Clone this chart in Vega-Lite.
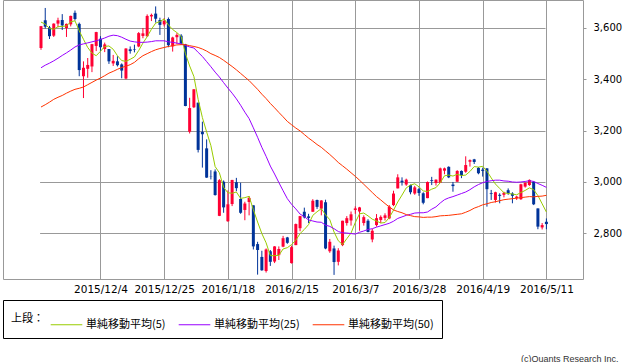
{
"$schema":"https://vega.github.io/schema/vega-lite/v6.json",
"width":580,"height":279,
"autosize":{"type":"none"},
"padding":{"left":3,"top":0,"right":55,"bottom":83},
"background":"white",
"config":{"view":{"stroke":"#999","strokeWidth":1},"font":"DejaVu Sans"},
"title":{"text":"(c)Quants Research Inc.","orient":"bottom","anchor":"end","frame":"bounds","fontSize":9,"font":"Liberation Sans","fontWeight":"normal","color":"#333","offset":16,"dx":-3},
"data":{"values":[
{"d":"2015-11-16","o":3522,"h":3608,"l":3515,"c":3607,"m5":3623,"m25":3445,"m50":3292},
{"d":"2015-11-17","o":3630,"h":3678,"l":3598,"c":3605,"m5":3615,"m25":3455,"m50":3301},
{"d":"2015-11-18","o":3602,"h":3608,"l":3557,"c":3568,"m5":3598,"m25":3463,"m50":3311},
{"d":"2015-11-19","o":3570,"h":3618,"l":3565,"c":3617,"m5":3595,"m25":3472,"m50":3322},
{"d":"2015-11-20","o":3617,"h":3640,"l":3603,"c":3630,"m5":3605,"m25":3482,"m50":3330},
{"d":"2015-11-23","o":3631,"h":3654,"l":3592,"c":3610,"m5":3606,"m25":3493,"m50":3337},
{"d":"2015-11-24","o":3600,"h":3617,"l":3565,"c":3616,"m5":3608,"m25":3503,"m50":3346},
{"d":"2015-11-25","o":3614,"h":3648,"l":3606,"c":3647,"m5":3624,"m25":3514,"m50":3354},
{"d":"2015-11-26","o":3659,"h":3668,"l":3629,"c":3635,"m5":3628,"m25":3526,"m50":3361},
{"d":"2015-11-27","o":3616,"h":3621,"l":3412,"c":3436,"m5":3589,"m25":3534,"m50":3365},
{"d":"2015-11-30","o":3412,"h":3470,"l":3327,"c":3445,"m5":3556,"m25":3538,"m50":3370},
{"d":"2015-12-01","o":3441,"h":3483,"l":3406,"c":3456,"m5":3524,"m25":3542,"m50":3379},
{"d":"2015-12-02","o":3450,"h":3538,"l":3428,"c":3537,"m5":3502,"m25":3546,"m50":3388},
{"d":"2015-12-03","o":3530,"h":3585,"l":3510,"c":3584,"m5":3492,"m25":3550,"m50":3397},
{"d":"2015-12-04","o":3558,"h":3568,"l":3510,"c":3525,"m5":3509,"m25":3555,"m50":3405},
{"d":"2015-12-07","o":3518,"h":3543,"l":3506,"c":3536,"m5":3528,"m25":3561,"m50":3414},
{"d":"2015-12-08","o":3518,"h":3518,"l":3460,"c":3470,"m5":3530,"m25":3568,"m50":3424},
{"d":"2015-12-09","o":3462,"h":3495,"l":3452,"c":3472,"m5":3517,"m25":3572,"m50":3431},
{"d":"2015-12-10","o":3470,"h":3490,"l":3450,"c":3455,"m5":3492,"m25":3570,"m50":3439},
{"d":"2015-12-11","o":3458,"h":3462,"l":3404,"c":3434,"m5":3473,"m25":3564,"m50":3446},
{"d":"2015-12-14","o":3403,"h":3521,"l":3400,"c":3520,"m5":3470,"m25":3556,"m50":3451},
{"d":"2015-12-15","o":3517,"h":3528,"l":3500,"c":3510,"m5":3478,"m25":3549,"m50":3457},
{"d":"2015-12-16","o":3518,"h":3535,"l":3505,"c":3516,"m5":3487,"m25":3546,"m50":3466},
{"d":"2015-12-17","o":3528,"h":3584,"l":3525,"c":3580,"m5":3512,"m25":3544,"m50":3480},
{"d":"2015-12-18","o":3569,"h":3600,"l":3560,"c":3579,"m5":3541,"m25":3544,"m50":3492},
{"d":"2015-12-21","o":3568,"h":3653,"l":3565,"c":3647,"m5":3566,"m25":3545,"m50":3500},
{"d":"2015-12-22","o":3645,"h":3656,"l":3627,"c":3651,"m5":3595,"m25":3547,"m50":3508},
{"d":"2015-12-23","o":3656,"h":3684,"l":3621,"c":3636,"m5":3619,"m25":3550,"m50":3515},
{"d":"2015-12-24","o":3631,"h":3640,"l":3573,"c":3612,"m5":3625,"m25":3550,"m50":3520},
{"d":"2015-12-25","o":3614,"h":3638,"l":3606,"c":3628,"m5":3635,"m25":3550,"m50":3524},
{"d":"2015-12-28","o":3635,"h":3641,"l":3525,"c":3533,"m5":3612,"m25":3546,"m50":3528},
{"d":"2015-12-29","o":3528,"h":3566,"l":3508,"c":3563,"m5":3594,"m25":3544,"m50":3531},
{"d":"2015-12-30","o":3564,"h":3580,"l":3538,"c":3573,"m5":3582,"m25":3541,"m50":3534},
{"d":"2015-12-31","o":3570,"h":3576,"l":3534,"c":3539,"m5":3567,"m25":3538,"m50":3535},
{"d":"2016-01-04","o":3536,"h":3538,"l":3295,"c":3296,"m5":3501,"m25":3532,"m50":3535},
{"d":"2016-01-05","o":3196,"h":3328,"l":3189,"c":3288,"m5":3452,"m25":3526,"m50":3531},
{"d":"2016-01-06","o":3291,"h":3362,"l":3288,"c":3361,"m5":3411,"m25":3522,"m50":3528},
{"d":"2016-01-07","o":3309,"h":3309,"l":3115,"c":3125,"m5":3322,"m25":3505,"m50":3524},
{"d":"2016-01-08","o":3195,"h":3235,"l":3056,"c":3186,"m5":3251,"m25":3489,"m50":3518},
{"d":"2016-01-11","o":3131,"h":3166,"l":3016,"c":3017,"m5":3195,"m25":3469,"m50":3510},
{"d":"2016-01-12","o":3023,"h":3046,"l":3010,"c":3022,"m5":3142,"m25":3449,"m50":3500},
{"d":"2016-01-13","o":3041,"h":3049,"l":2947,"c":2949,"m5":3060,"m25":3428,"m50":3493},
{"d":"2016-01-14","o":2868,"h":3011,"l":2867,"c":3007,"m5":3036,"m25":3409,"m50":3485},
{"d":"2016-01-15","o":3001,"h":3006,"l":2880,"c":2901,"m5":2979,"m25":3387,"m50":3474},
{"d":"2016-01-18","o":2847,"h":2967,"l":2845,"c":2913,"m5":2958,"m25":3366,"m50":3462},
{"d":"2016-01-19","o":2914,"h":3008,"l":2906,"c":3008,"m5":2956,"m25":3346,"m50":3450},
{"d":"2016-01-20","o":2999,"h":3016,"l":2964,"c":2976,"m5":2961,"m25":3324,"m50":3437},
{"d":"2016-01-21","o":2934,"h":2997,"l":2876,"c":2880,"m5":2936,"m25":3299,"m50":3423},
{"d":"2016-01-22","o":2891,"h":2923,"l":2851,"c":2916,"m5":2939,"m25":3272,"m50":3409},
{"d":"2016-01-25","o":2922,"h":2945,"l":2870,"c":2938,"m5":2944,"m25":3247,"m50":3395},
{"d":"2016-01-26","o":2909,"h":2909,"l":2737,"c":2749,"m5":2892,"m25":3211,"m50":3378},
{"d":"2016-01-27","o":2758,"h":2767,"l":2639,"c":2735,"m5":2844,"m25":3174,"m50":3361},
{"d":"2016-01-28","o":2708,"h":2732,"l":2654,"c":2656,"m5":2799,"m25":3135,"m50":3342},
{"d":"2016-01-29","o":2653,"h":2741,"l":2647,"c":2737,"m5":2763,"m25":3100,"m50":3325},
{"d":"2016-02-01","o":2730,"h":2735,"l":2673,"c":2689,"m5":2713,"m25":3062,"m50":3306},
{"d":"2016-02-02","o":2690,"h":2750,"l":2684,"c":2749,"m5":2713,"m25":3031,"m50":3289},
{"d":"2016-02-03","o":2715,"h":2749,"l":2696,"c":2739,"m5":2714,"m25":2998,"m50":3271},
{"d":"2016-02-04","o":2748,"h":2790,"l":2746,"c":2781,"m5":2739,"m25":2966,"m50":3254},
{"d":"2016-02-05","o":2784,"h":2786,"l":2759,"c":2763,"m5":2744,"m25":2935,"m50":3236},
{"d":"2016-02-15","o":2684,"h":2752,"l":2682,"c":2746,"m5":2756,"m25":2913,"m50":3223},
{"d":"2016-02-16","o":2754,"h":2838,"l":2754,"c":2836,"m5":2773,"m25":2895,"m50":3210},
{"d":"2016-02-17","o":2820,"h":2868,"l":2808,"c":2867,"m5":2799,"m25":2875,"m50":3199},
{"d":"2016-02-18","o":2884,"h":2900,"l":2858,"c":2862,"m5":2815,"m25":2865,"m50":3185},
{"d":"2016-02-19","o":2866,"h":2876,"l":2840,"c":2860,"m5":2834,"m25":2852,"m50":3171},
{"d":"2016-02-22","o":2884,"h":2933,"l":2884,"c":2927,"m5":2870,"m25":2848,"m50":3159},
{"d":"2016-02-23","o":2930,"h":2931,"l":2895,"c":2903,"m5":2884,"m25":2844,"m50":3146},
{"d":"2016-02-24","o":2896,"h":2929,"l":2870,"c":2928,"m5":2896,"m25":2843,"m50":3135},
{"d":"2016-02-25","o":2921,"h":2931,"l":2738,"c":2741,"m5":2872,"m25":2832,"m50":3121},
{"d":"2016-02-26","o":2730,"h":2778,"l":2724,"c":2767,"m5":2853,"m25":2827,"m50":3107},
{"d":"2016-02-29","o":2741,"h":2752,"l":2638,"c":2688,"m5":2805,"m25":2818,"m50":3092},
{"d":"2016-03-01","o":2689,"h":2742,"l":2675,"c":2733,"m5":2771,"m25":2807,"m50":3076},
{"d":"2016-03-02","o":2754,"h":2849,"l":2750,"c":2849,"m5":2756,"m25":2802,"m50":3063},
{"d":"2016-03-03","o":2840,"h":2867,"l":2830,"c":2859,"m5":2779,"m25":2801,"m50":3050},
{"d":"2016-03-04","o":2850,"h":2885,"l":2830,"c":2874,"m5":2801,"m25":2799,"m50":3036},
{"d":"2016-03-07","o":2891,"h":2905,"l":2876,"c":2897,"m5":2842,"m25":2797,"m50":3022},
{"d":"2016-03-08","o":2885,"h":2903,"l":2810,"c":2901,"m5":2876,"m25":2804,"m50":3007},
{"d":"2016-03-09","o":2840,"h":2870,"l":2830,"c":2863,"m5":2879,"m25":2809,"m50":2991},
{"d":"2016-03-10","o":2849,"h":2855,"l":2804,"c":2805,"m5":2868,"m25":2815,"m50":2975},
{"d":"2016-03-11","o":2776,"h":2817,"l":2765,"c":2810,"m5":2855,"m25":2818,"m50":2959},
{"d":"2016-03-14","o":2832,"h":2875,"l":2826,"c":2859,"m5":2848,"m25":2824,"m50":2943},
{"d":"2016-03-15","o":2852,"h":2870,"l":2840,"c":2864,"m5":2840,"m25":2829,"m50":2930},
{"d":"2016-03-16","o":2860,"h":2878,"l":2850,"c":2870,"m5":2842,"m25":2834,"m50":2916},
{"d":"2016-03-17","o":2858,"h":2910,"l":2855,"c":2904,"m5":2861,"m25":2839,"m50":2903},
{"d":"2016-03-18","o":2910,"h":2966,"l":2906,"c":2955,"m5":2890,"m25":2847,"m50":2891},
{"d":"2016-03-21","o":2975,"h":3030,"l":2975,"c":3018,"m5":2922,"m25":2858,"m50":2885},
{"d":"2016-03-22","o":3005,"h":3018,"l":2986,"c":2999,"m5":2949,"m25":2864,"m50":2880},
{"d":"2016-03-23","o":2990,"h":3013,"l":2985,"c":3009,"m5":2977,"m25":2870,"m50":2873},
{"d":"2016-03-24","o":2988,"h":2990,"l":2952,"c":2960,"m5":2988,"m25":2874,"m50":2869},
{"d":"2016-03-25","o":2955,"h":2985,"l":2950,"c":2979,"m5":2993,"m25":2879,"m50":2865},
{"d":"2016-03-28","o":2972,"h":2978,"l":2946,"c":2957,"m5":2981,"m25":2880,"m50":2864},
{"d":"2016-03-29","o":2956,"h":2960,"l":2913,"c":2919,"m5":2965,"m25":2880,"m50":2862},
{"d":"2016-03-30","o":2937,"h":3002,"l":2937,"c":3000,"m5":2963,"m25":2883,"m50":2863},
{"d":"2016-03-31","o":3007,"h":3020,"l":2988,"c":3004,"m5":2972,"m25":2894,"m50":2863},
{"d":"2016-04-01","o":2996,"h":3010,"l":2986,"c":3009,"m5":2978,"m25":2903,"m50":2865},
{"d":"2016-04-05","o":2997,"h":3056,"l":2996,"c":3053,"m5":2997,"m25":2918,"m50":2868},
{"d":"2016-04-06","o":3044,"h":3056,"l":3030,"c":3053,"m5":3024,"m25":2931,"m50":2869},
{"d":"2016-04-07","o":3059,"h":3061,"l":3015,"c":3018,"m5":3027,"m25":2938,"m50":2870},
{"d":"2016-04-08","o":2990,"h":3000,"l":2962,"c":2984,"m5":3023,"m25":2943,"m50":2872},
{"d":"2016-04-11","o":3001,"h":3046,"l":3001,"c":3043,"m5":3030,"m25":2949,"m50":2874},
{"d":"2016-04-12","o":3043,"h":3045,"l":3015,"c":3026,"m5":3025,"m25":2955,"m50":2876},
{"d":"2016-04-13","o":3040,"h":3100,"l":3036,"c":3066,"m5":3027,"m25":2961,"m50":2882},
{"d":"2016-04-14","o":3079,"h":3088,"l":3060,"c":3085,"m5":3041,"m25":2970,"m50":2889},
{"d":"2016-04-15","o":3088,"h":3090,"l":3070,"c":3078,"m5":3060,"m25":2981,"m50":2898},
{"d":"2016-04-18","o":3055,"h":3058,"l":3030,"c":3034,"m5":3058,"m25":2990,"m50":2904},
{"d":"2016-04-19","o":3048,"h":3056,"l":3021,"c":3043,"m5":3061,"m25":2997,"m50":2911},
{"d":"2016-04-20","o":3053,"h":3054,"l":2904,"c":2972,"m5":3042,"m25":3002,"m50":2915},
{"d":"2016-04-21","o":2956,"h":2969,"l":2930,"c":2953,"m5":3016,"m25":3005,"m50":2920},
{"d":"2016-04-22","o":2930,"h":2962,"l":2920,"c":2960,"m5":2992,"m25":3007,"m50":2923},
{"d":"2016-04-25","o":2950,"h":2956,"l":2917,"c":2946,"m5":2975,"m25":3007,"m50":2927},
{"d":"2016-04-26","o":2950,"h":2962,"l":2940,"c":2958,"m5":2958,"m25":3004,"m50":2931},
{"d":"2016-04-27","o":2968,"h":2975,"l":2950,"c":2956,"m5":2955,"m25":3003,"m50":2933},
{"d":"2016-04-28","o":2955,"h":2960,"l":2917,"c":2946,"m5":2953,"m25":3000,"m50":2935},
{"d":"2016-04-29","o":2937,"h":2946,"l":2930,"c":2943,"m5":2950,"m25":2999,"m50":2937},
{"d":"2016-05-03","o":2933,"h":2993,"l":2930,"c":2991,"m5":2959,"m25":3000,"m50":2939},
{"d":"2016-05-04","o":2982,"h":2998,"l":2978,"c":2997,"m5":2967,"m25":3002,"m50":2941},
{"d":"2016-05-05","o":2988,"h":3010,"l":2985,"c":3008,"m5":2977,"m25":3005,"m50":2943},
{"d":"2016-05-06","o":3001,"h":3003,"l":2910,"c":2913,"m5":2970,"m25":3002,"m50":2942},
{"d":"2016-05-09","o":2897,"h":2897,"l":2816,"c":2826,"m5":2947,"m25":2994,"m50":2944},
{"d":"2016-05-10","o":2823,"h":2840,"l":2815,"c":2832,"m5":2915,"m25":2987,"m50":2945},
{"d":"2016-05-11","o":2845,"h":2858,"l":2816,"c":2836,"m5":2883,"m25":2979,"m50":2948}
]},
"encoding":{
"x":{"field":"d","type":"ordinal","scale":{"type":"point","padding":0,"range":[38,543.4]},
"axis":{"values":["2015-12-04","2015-12-25","2016-01-18","2016-02-15","2016-03-07","2016-03-28","2016-04-19","2016-05-11"],
"labelExpr":"utcFormat(toDate(datum.value), '%Y/%-m/%-d')","grid":true,"gridColor":"#999","gridOpacity":1,"ticks":false,"domain":false,"labelAngle":0,"labelFontSize":10.5,"labelColor":"#000","labelPadding":5,"title":null}}
},
"layer":[
{"mark":{"type":"rule","strokeWidth":1},
"encoding":{"y":{"field":"l","type":"quantitative","scale":{"domain":[2622,3709],"nice":false,"zero":false},
"axis":{"orient":"right","values":[2800,3000,3200,3400,3600],"labelExpr":"format(datum.value, ',.0f')","grid":true,"gridColor":"#999","gridOpacity":1,"tickColor":"#999","tickSize":3,"domain":false,"labelFontSize":10,"labelColor":"#000","labelPadding":7,"title":null}},
"y2":{"field":"h"},
"color":{"condition":{"test":"datum.c >= datum.o","value":"#ff0033"},"value":"#003399"}}},
{"mark":{"type":"bar","size":3},
"encoding":{"y":{"field":"o","type":"quantitative","scale":{"domain":[2622,3709],"nice":false,"zero":false}},
"y2":{"field":"c"},
"color":{"condition":{"test":"datum.c >= datum.o","value":"#ff0033"},"value":"#003399"}}},
{"transform":[{"fold":["m5","m25","m50"],"as":["k","v"]}],
"mark":{"type":"line","strokeWidth":1},
"encoding":{"y":{"field":"v","type":"quantitative","scale":{"domain":[2622,3709],"nice":false,"zero":false}},
"color":{"field":"k","type":"nominal","scale":{"domain":["m5","m25","m50"],"range":["#99cc00","#9900ff","#ff3300"]},
"legend":{"orient":"none","legendX":0,"legendY":300,"direction":"horizontal","title":"上段：","titleOrient":"left","titleFontSize":11,"titleFontWeight":"normal","titleFont":"Noto Sans CJK JP","titleColor":"#000","titlePadding":6,"labelFont":"Noto Sans CJK JP","labelFontSize":11,"labelColor":"#000","labelOffset":3,"columnPadding":10,"symbolType":"stroke","symbolSize":1000,"symbolStrokeWidth":1,"strokeColor":"#000","padding":8,
"labelExpr":"datum.label == 'm5' ? '単純移動平均(5)' : datum.label == 'm25' ? '単純移動平均(25)' : '単純移動平均(50)　　　　　　　　　　　　　　　　'"}}}}
]
}
